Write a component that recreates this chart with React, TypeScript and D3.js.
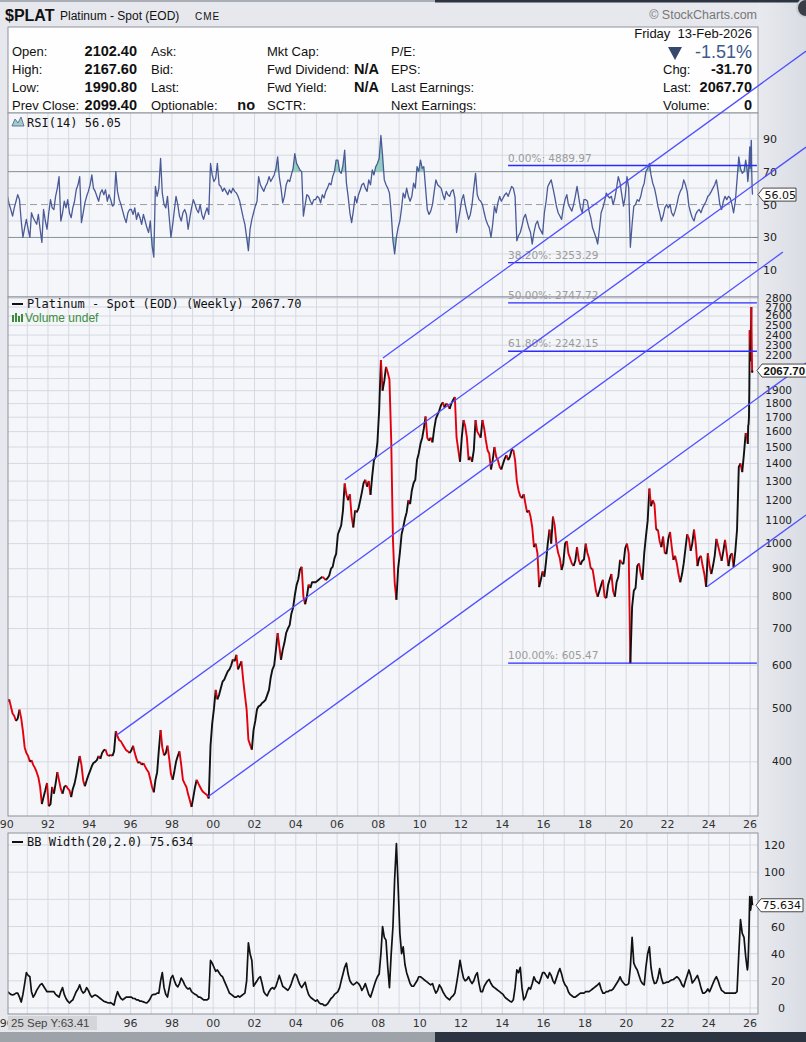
import * as d3 from 'd3';

const W = 806;
const H = 1042;

// weekly chart, sampled as monthly closes Jan 1990 .. Oct 2025, then weekly from 7-Nov-2025
const price1990s = [
  515, 520, 505, 490, 485, 475, 480, 498, 480, 455, 425, 415,
  410, 400, 403, 395, 390, 383, 375, 360, 335, 345, 355, 366,
  332, 335, 360, 350, 365, 383, 370, 357, 350, 360, 362, 358,
  355, 345, 357, 365, 378, 395, 410, 395, 370, 361, 370, 378,
  385, 393, 398, 400, 403, 410, 405, 415, 420, 421, 412, 410,
  412, 410, 418, 455, 445, 438, 436, 430, 425, 420, 418, 415,
  420, 428, 415, 405, 398, 400, 395, 398, 392, 387, 383, 372,
  360, 352, 370, 383, 420, 457, 425, 411, 415, 428, 405, 380,
  371, 385, 400, 410, 418, 395, 371, 365, 360, 349, 340, 331,
  345, 360, 371, 365, 360, 355, 352, 350, 348, 343, 428, 470,
];
const price2000s = [
  500, 541, 520, 530, 545, 560, 565, 575, 585, 590, 600, 615,
  610, 627, 590, 600, 610, 564, 530, 498, 439, 430, 421, 457,
  475, 499, 505, 507, 512, 515, 519, 530, 541, 570, 590, 600,
  640, 687, 650, 614, 640, 660, 687, 700, 710, 745, 764, 805,
  840, 860, 896, 907, 800, 775, 800, 842, 830, 850, 850, 850,
  855, 860, 865, 870, 865, 858, 865, 875, 900, 907, 940, 958,
  1040, 1060, 1080, 1150, 1287, 1227, 1200, 1230, 1120, 1070, 1150, 1140,
  1160, 1200, 1240, 1290, 1307, 1270, 1300, 1227, 1330, 1420, 1439, 1530,
  1750, 2162, 1900, 1980, 2100, 2050, 1990, 1545, 1016, 850, 790, 900,
  961, 1040, 1070, 1110, 1140, 1200, 1180, 1250, 1290, 1307, 1420, 1460,
];
const price2010s = [
  1520, 1560, 1620, 1705, 1560, 1540, 1560, 1530, 1620, 1690, 1720, 1750,
  1790, 1810, 1770, 1800, 1790, 1760, 1800, 1828, 1851, 1560, 1480, 1410,
  1560, 1680, 1640, 1560, 1420, 1440, 1410, 1480, 1680, 1600, 1580, 1560,
  1680, 1620, 1545, 1480, 1460, 1365, 1420, 1500, 1440, 1420, 1380, 1365,
  1400, 1430, 1450, 1420, 1440, 1480, 1482, 1420, 1300, 1250, 1220, 1210,
  1230, 1180, 1140, 1150, 1120, 1070, 985, 1000, 960, 833, 860, 890,
  870, 930, 1000, 1060, 1000, 1120, 1080, 1000, 961, 940, 895, 920,
  1000, 1010, 960, 940, 920, 910, 930, 985, 934, 915, 930, 935,
  1000, 960, 940, 900, 900, 860, 820, 800, 820, 840, 859, 800,
  795, 840, 860, 880, 820, 800, 850, 870, 934, 920, 920, 980,
];
const price2020s = [
  1000, 960, 605, 767, 820, 830, 910, 920, 880, 859, 960, 1030,
  1100, 1260, 1170, 1200, 1180, 1060, 1060, 1010, 985, 1030, 960, 960,
  1020, 1050, 990, 934, 950, 920, 880, 850, 880, 920, 980, 1040,
  1020, 970, 1000, 1060, 1000, 910, 940, 950, 910, 880, 834, 960,
  910, 880, 910, 950, 1020, 990, 960, 930, 970, 1016, 960, 910,
  950, 960, 907, 970, 1060, 1380, 1400, 1350, 1460, 1590,
];
const priceTail = [1560, 1540, 1520, 1640, 1650, 1700, 1950, 2450, 2150, 2300, 2400, 2700, 2300, 2050, 2067.7];

const rsi1990s = [
  55, 50, 47, 43, 48, 52, 56, 53, 40, 30, 36, 41,
  35, 30, 45, 42, 40, 38, 44, 35, 27, 47, 40, 35,
  45, 53, 48, 47, 55, 60, 67, 40, 45, 52, 48, 53,
  45, 42, 48, 52, 59, 62, 67, 39, 45, 51, 55, 58,
  62, 68, 60, 58, 55, 52, 57, 59, 56, 59, 52, 56,
  53, 49, 50, 70, 58, 53, 50, 46, 42, 39, 45, 47,
  47, 44, 48, 41, 45, 42, 38, 44, 40, 36, 33, 40,
  25, 18, 61, 55, 60, 78, 57, 50, 48, 55, 42, 30,
  38, 47, 55, 50, 43, 40, 45, 47, 44, 35, 42, 48,
  53, 50, 47, 45, 50, 44, 41, 45, 48, 44, 75, 68,
];
const rsi2000s = [
  64, 66, 75, 62, 61, 58, 60, 58, 56, 59, 57, 60,
  58, 57, 55, 52, 47, 42, 38, 30, 22, 35, 41, 45,
  49, 52, 67, 62, 60, 58, 61, 63, 67, 64, 66, 68,
  72, 79, 67, 60, 51, 55, 62, 65, 64, 68, 72, 81,
  75, 73, 71, 70, 43, 50, 56, 55, 52, 50, 53, 53,
  55, 54, 51, 56, 54, 58, 60, 63, 62, 67, 70, 77,
  77, 70, 69, 74, 83, 63, 55, 45, 39, 46, 55, 51,
  56, 59, 62, 63, 60, 58, 65, 62, 71, 68, 73, 75,
  78, 92, 80, 65, 62, 60, 57, 45, 28, 20, 30, 36,
  40, 48, 57, 54, 60, 55, 52, 55, 63, 60, 73, 70,
];
const rsi2010s = [
  77, 72, 73, 60, 47, 44, 46, 50, 58, 65, 62, 61,
  60, 56, 53, 58, 56, 55, 58, 59, 54, 33, 40, 46,
  53, 56, 50, 45, 41, 44, 50, 60, 69, 56, 53, 52,
  50, 45, 41, 38, 36, 30, 38, 49, 45, 51, 55, 52,
  54, 56, 57, 55, 58, 61, 60, 55, 28, 31, 33, 37,
  42, 44, 40, 36, 33, 26, 33, 38, 40, 36, 34, 32,
  45, 52, 61, 63, 65, 60, 55, 49, 45, 43, 41, 48,
  53, 56, 50, 48, 46, 50, 55, 61, 54, 48, 45, 53,
  53, 52, 46, 42, 36, 33, 30, 26, 35, 45, 48, 52,
  57, 55, 54, 55, 50, 54, 60, 67, 63, 56, 49, 55,
];
const rsi2020s = [
  67, 60, 24, 38, 49, 50, 53, 52, 55, 60, 63, 70,
  72, 75, 68, 63, 60, 55, 49, 45, 40, 43, 48, 50,
  48, 50, 45, 43, 46, 50, 55, 58, 60, 65, 62, 58,
  49, 45, 42, 40, 44, 46, 47, 45, 48, 50, 52, 55,
  56, 58, 60, 62, 65, 58, 50, 47, 52, 55, 53, 55,
  54, 50, 45, 52, 65, 79, 72, 69, 70, 77,
];
const rsiTail = [72, 68, 64, 66, 70, 75, 80, 85, 72, 76, 82, 89, 70, 60, 56.05];

const bb1990s = [
  12, 11, 10, 9.6, 10, 11, 11, 8, 4.4, 10, 18, 26,
  24, 23, 12, 8, 10, 13, 15, 17, 18, 16, 14, 12,
  12, 12, 12, 12, 10, 9, 8, 12, 15, 10, 7, 5,
  3.7, 5, 6, 9, 12, 14, 17, 13, 11, 12, 15, 13,
  10, 8, 9, 9.6, 9, 8, 7, 6, 5, 4.5, 4, 3.7,
  4, 3, 2.2, 8, 12, 9, 7, 6, 7, 8, 8, 8,
  8, 7, 7, 6, 6, 5, 5, 4.5, 4, 3.7, 5, 7,
  9.6, 10, 10, 11, 11, 20, 26, 15, 10, 8, 15, 22,
  24, 20, 17, 15.5, 18, 22, 20, 17, 15, 14, 14.7, 12,
  11, 10, 9.6, 8, 8, 7, 6, 6, 6, 7, 35, 33,
];
const bb2000s = [
  30, 27, 28, 26, 24, 23, 20, 17, 14, 11, 10, 9,
  8, 8, 9, 8, 9, 10, 11, 20, 48, 40, 35, 16,
  18, 20, 22, 23, 18, 12, 10, 9, 12, 14, 15, 14,
  16, 20, 24, 20, 16, 15, 14, 13, 15, 18, 22, 25,
  24, 20, 17, 15, 17, 19, 14, 10, 8, 7, 6, 5,
  6, 4, 3, 3, 2, 2, 3, 5, 7, 8, 10, 11,
  12, 15, 20, 25, 30, 33, 25, 20, 18, 17, 18, 19,
  18, 16, 13, 15, 18, 14, 10, 8, 12, 16, 20, 23,
  25, 40, 60, 52, 50, 30, 15, 40, 60, 95, 121, 90,
  55, 40, 45, 32, 26, 22, 18, 16, 16, 18, 20, 23,
];
const bb2010s = [
  23, 22, 21, 20, 19, 18, 17, 18, 14, 11, 13, 17,
  15, 12, 10, 8, 7, 6, 8, 9, 11, 18, 26, 35,
  28, 22, 20, 21, 23, 20, 18, 20, 24, 26, 18, 12,
  12, 16, 18, 20, 21, 18, 16, 15, 14, 13, 12, 11,
  10, 8, 7, 6, 5, 4.4, 6, 15, 28, 26, 30, 15,
  6, 8, 12, 15, 14, 18, 23, 20, 19, 18, 22, 26,
  26, 24, 22, 26, 24, 20, 18, 22, 26, 29, 25, 20,
  17, 15.5, 12, 10, 9, 8, 8, 9, 10, 11, 11, 11,
  12, 12, 12, 13, 14, 15, 16, 17, 18.4, 14, 11, 11,
  12, 12, 13, 13, 14, 16, 18, 20, 23, 20, 18.4, 17,
];
const bb2020s = [
  17, 18, 30, 52, 33, 30, 28, 24, 20, 18, 17, 30,
  40, 45, 30, 22, 18, 18.4, 22, 29, 22, 18, 18.4, 19,
  19, 20, 20.6, 21, 22, 23, 22, 20, 17, 15.5, 20, 24,
  28, 24, 18.4, 20, 22, 24, 20, 15, 11, 11, 12, 14,
  12, 15, 18, 21, 23, 20, 16, 13, 12, 11, 11, 11,
  11, 11, 11, 11, 12, 40, 65, 55, 52, 38,
];
const bbTail = [30, 28, 30, 36, 45, 55, 70, 82, 78, 72, 74, 80, 82, 78, 75.634];

const priceTicks = [400, 500, 600, 700, 800, 900, 1000, 1100, 1200, 1300, 1400, 1500, 1600, 1700, 1800, 1900, 2000, 2100, 2200, 2300, 2400, 2500, 2600, 2700, 2800];
const rsiTicks = [10, 30, 50, 70, 90];
const bbTicks = [0, 20, 40, 60, 80, 100, 120];

// fibonacci retracement drawn on the chart
const fibHigh = 4889.97;
const fibLow = 605.47;
const fibLevels = [0, 0.382, 0.5, 0.618, 1];
const fibSpan = [2014.28, 2026.33];

// hand-drawn channel lines: [startYear, startPrice, endYear, endPrice]
const trendLines = [
  [2008.22, 2180, 2028.71, 7905],
  [2006.38, 1307, 2028.71, 5283],
  [1995.34, 448, 2027.59, 3401],
  [1999.75, 345.6, 2028.71, 2135],
  [2023.91, 834, 2028.71, 1128],
];

const SANS = "'Liberation Sans', Arial, sans-serif";
const AXF = "'DejaVu Sans', Verdana, sans-serif";
const MONO = "'DejaVu Sans Mono', monospace";

const L = 8;
const R = 758;
const RSI_T = 113;
const RSI_B = 297;
const MAIN_T = 297;
const MAIN_B = 816;
const BB_T = 833;
const BB_B = 1014;

function yearToDate(y: number) {
  const yr = Math.floor(y);
  const a = new Date(yr, 0, 1).getTime();
  const b = new Date(yr + 1, 0, 1).getTime();
  return new Date(a + (y - yr) * (b - a));
}

export default function App() {
  const dates = [
    ...d3.range(430).map(i => new Date(1990, i, 15)),
    ...d3.range(priceTail.length).map(i => d3.timeDay.offset(new Date(2025, 10, 7), i * 7)),
  ];
  const closes = [...price1990s, ...price2000s, ...price2010s, ...price2020s, ...priceTail];
  const rsi = [...rsi1990s, ...rsi2000s, ...rsi2010s, ...rsi2020s, ...rsiTail];
  const bbw = [...bb1990s, ...bb2000s, ...bb2010s, ...bb2020s, ...bbTail];

  const x = d3.scaleTime().domain([new Date(1990, 0, 1), new Date(2026, 0, 1)]).range([6.7, 750.1]);
  const yP = d3.scaleLog().domain([316, 2700]).range([818, 307]);
  const yR = d3.scaleLinear().domain([0, 100]).range([286.8, 122.3]);
  const yB = d3.scaleLinear().domain([0, 120]).range([1008, 845]);

  const years = d3.range(1990, 2027).map(y => x(new Date(y, 0, 1))).filter(v => v > L + 0.5 && v < R);
  const labelYears = d3.range(1990, 2027, 2);
  const fmtYear = d3.timeFormat('%y');

  // price line: red on down weeks, black on up weeks
  const pts = dates.map((d, i) => [x(d), yP(closes[i])] as [number, number]);
  const runs: { up: boolean; pts: [number, number][] }[] = [];
  for (let i = 1; i < pts.length; i++) {
    const up = closes[i] >= closes[i - 1];
    const last = runs[runs.length - 1];
    if (last && last.up === up) last.pts.push(pts[i]);
    else runs.push({ up, pts: [pts[i - 1], pts[i]] });
  }
  const line = d3.line<[number, number]>();

  const rsiLine = d3.line<number>().x((_, i) => x(dates[i])).y(v => yR(v))(rsi) ?? '';
  const rsiHi = d3.area<number>().x((_, i) => x(dates[i])).y0(yR(70)).y1(v => yR(v))(rsi) ?? '';
  const rsiLo = d3.area<number>().x((_, i) => x(dates[i])).y0(yR(30)).y1(v => yR(v))(rsi) ?? '';
  const bbLine = d3.line<number>().x((_, i) => x(dates[i])).y(v => yB(v))(bbw) ?? '';

  const lastClose = closes[closes.length - 1];
  const lastRsi = rsi[rsi.length - 1];
  const lastBB = bbw[bbw.length - 1];

  const grid = '#d6d9e1';
  const border = '#8d929b';

  // axis labels hidden under the last-value tags
  const priceLabels = priceTicks.filter(t => Math.abs(yP(t) - yP(lastClose)) > 9);
  const bbLabels = bbTicks.filter(t => Math.abs(yB(t) - yB(lastBB)) > 9);

  const valueBox = (yy: number, x0: number, w: number, text: string, bold = false, fs = 11, font = AXF) => (
    <g>
      <path
        d={`M${x0},${yy} L${x0 + 5},${yy - 6.5} L${x0 + 5 + w},${yy - 6.5} L${x0 + 5 + w},${yy + 6.5} L${x0 + 5},${yy + 6.5} Z`}
        fill="#fff"
        stroke="#333"
        strokeWidth={0.9}
      />
      <text x={x0 + 6.5} y={yy + 4} fontFamily={font} fontSize={fs} fontWeight={bold ? 'bold' : 'normal'} fill="#111">
        {text}
      </text>
    </g>
  );

  const statRow = (yy: number, cells: [number, string, 'start' | 'end', boolean][]) =>
    cells.map(([xx, t, anchor, bold], i) => (
      <text
        key={`${yy}-${i}`}
        x={xx}
        y={yy}
        textAnchor={anchor}
        fontFamily={SANS}
        fontSize={bold ? 14.5 : 13}
        fontWeight={bold ? 'bold' : 'normal'}
        fill="#111"
        style={{ whiteSpace: 'pre' }}
      >
        {t}
      </text>
    ));

  return (
    <div style={{ position: 'absolute', left: 0, top: 0, width: W, height: H }}>
      <svg width={W} height={H} viewBox={`0 0 ${W} ${H}`} style={{ display: 'block' }}>
        <defs>
          <clipPath id="clipRsi"><rect x={L} y={RSI_T} width={R - L} height={RSI_B - RSI_T} /></clipPath>
          <clipPath id="clipRsiHi"><rect x={L} y={RSI_T} width={R - L} height={yR(70) - RSI_T} /></clipPath>
          <clipPath id="clipRsiLo"><rect x={L} y={yR(30)} width={R - L} height={RSI_B - yR(30)} /></clipPath>
          <clipPath id="clipMain"><rect x={L} y={MAIN_T} width={R - L} height={MAIN_B - MAIN_T} /></clipPath>
          <clipPath id="clipBB"><rect x={L} y={BB_T} width={R - L} height={BB_B - BB_T} /></clipPath>
          <clipPath id="clipEdge"><rect x={0} y={1000} width={L} height={40} /></clipPath>
          <linearGradient id="side" x1="0" x2="1" y1="0" y2="0">
            <stop offset="0" stopColor="#e8eaef" />
            <stop offset="1" stopColor="#d9dce3" />
          </linearGradient>
        </defs>

        {/* page background */}
        <rect x={0} y={0} width={W} height={H} fill="#e6e8ed" />
        <rect x={R} y={0} width={W - R} height={H} fill="url(#side)" />
        <rect x={0} y={0} width={435} height={2} fill="#a9adb5" />
        <rect x={435} y={0} width={W - 435} height={2.5} fill="#2c3441" />
        <circle cx={806} cy={8} r={9} fill="#3a3f47" stroke="#c9ccd2" strokeWidth={2} />

        {/* title */}
        <text x={5} y={21} fontFamily={SANS} fontSize={16} fontWeight="bold" fill="#111">$PLAT</text>
        <text x={60} y={20} fontFamily={SANS} fontSize={12} fill="#111">Platinum - Spot (EOD)</text>
        <text x={195} y={20} fontFamily={SANS} fontSize={10} letterSpacing={1} fill="#111">CME</text>
        <text x={757} y={19} textAnchor="end" fontFamily={SANS} fontSize={12.5} fill="#777">© StockCharts.com</text>

        {/* header box */}
        <rect x={L} y={27} width={R - L} height={RSI_T - 27} fill="#fefefe" stroke={border} strokeWidth={1} />
        {statRow(56, [[12, 'Open:', 'start', false], [137, '2102.40', 'end', true], [151, 'Ask:', 'start', false], [267, 'Mkt Cap:', 'start', false], [391, 'P/E:', 'start', false]])}
        {statRow(74, [[12, 'High:', 'start', false], [137, '2167.60', 'end', true], [151, 'Bid:', 'start', false], [267, 'Fwd Dividend:', 'start', false], [379, 'N/A', 'end', true], [391, 'EPS:', 'start', false]])}
        {statRow(92, [[12, 'Low:', 'start', false], [137, '1990.80', 'end', true], [151, 'Last:', 'start', false], [267, 'Fwd Yield:', 'start', false], [379, 'N/A', 'end', true], [391, 'Last Earnings:', 'start', false]])}
        {statRow(110, [[12, 'Prev Close:', 'start', false], [137, '2099.40', 'end', true], [151, 'Optionable:', 'start', false], [255, 'no', 'end', true], [267, 'SCTR:', 'start', false], [391, 'Next Earnings:', 'start', false]])}
        <text x={752} y={38} textAnchor="end" fontFamily={SANS} fontSize={13} fill="#111" style={{ whiteSpace: 'pre' }}>{'Friday  13-Feb-2026'}</text>
        <path d="M668,47 L682,47 L675,60 Z" fill="#34496b" />
        <text x={752} y={58} textAnchor="end" fontFamily={SANS} fontSize={18} fill="#3d5a8c">-1.51%</text>
        {statRow(74, [[663, 'Chg:', 'start', false], [752, '-31.70', 'end', true]])}
        {statRow(92, [[663, 'Last:', 'start', false], [752, '2067.70', 'end', true]])}
        {statRow(110, [[663, 'Volume:', 'start', false], [752, '0', 'end', true]])}

        {/* ---------- RSI panel ---------- */}
        <rect x={L} y={RSI_T} width={R - L} height={RSI_B - RSI_T} fill="#f4f6fa" />
        {years.map((v, i) => <line key={`rv${i}`} x1={v} x2={v} y1={RSI_T} y2={RSI_B} stroke={grid} />)}
        {d3.range(10, 100, 10).filter(v => v !== 30 && v !== 50 && v !== 70).map(v => (
          <line key={`rh${v}`} x1={L} x2={R} y1={yR(v)} y2={yR(v)} stroke={grid} />
        ))}
        <line x1={L} x2={R} y1={yR(70)} y2={yR(70)} stroke="#7e828a" strokeWidth={1} />
        <line x1={L} x2={R} y1={yR(30)} y2={yR(30)} stroke="#7e828a" strokeWidth={1} />
        <line x1={L} x2={R} y1={yR(50)} y2={yR(50)} stroke="#9a9da4" strokeDasharray="7,4" />
        <path d={rsiHi} fill="#93cfc0" clipPath="url(#clipRsiHi)" />
        <path d={rsiLo} fill="#93cfc0" clipPath="url(#clipRsiLo)" />
        <path d={rsiLine} fill="none" stroke="#4a5a96" strokeWidth={1.3} strokeLinejoin="round" clipPath="url(#clipRsi)" />
        <rect x={L} y={RSI_T} width={R - L} height={RSI_B - RSI_T} fill="none" stroke={border} />
        <path d="M12,126 L15,119 L18,123 L21,117 L24,126 Z" fill="#9fd0c6" stroke="#4a5a96" strokeWidth={0.8} />
        <text x={27} y={127} fontFamily={MONO} fontSize={12} fill="#111">{`RSI(14) ${lastRsi.toFixed(2)}`}</text>
        {rsiTicks.map(t => (
          <text key={`rt${t}`} x={777} y={yR(t) + 4} textAnchor="end" fontFamily={AXF} fontSize={11} fill="#222">{t}</text>
        ))}

        {/* ---------- price panel ---------- */}
        <rect x={L} y={MAIN_T} width={R - L} height={MAIN_B - MAIN_T} fill="#f4f6fa" />
        {years.map((v, i) => <line key={`mv${i}`} x1={v} x2={v} y1={MAIN_T} y2={MAIN_B} stroke={grid} />)}
        {priceTicks.map(t => (
          <line key={`mh${t}`} x1={L} x2={R} y1={yP(t)} y2={yP(t)} stroke={grid} />
        ))}
        <g clipPath="url(#clipMain)" fill="none" strokeWidth={1.9} strokeLinejoin="round">
          {runs.map((r, i) => (
            <path key={`pr${i}`} d={line(r.pts) ?? ''} stroke={r.up ? '#111' : '#e3000e'} />
          ))}
        </g>
        <rect x={L} y={MAIN_T} width={R - L} height={MAIN_B - MAIN_T} fill="none" stroke={border} />
        <line x1={12} x2={23} y1={304} y2={304} stroke="#111" strokeWidth={2} />
        <text x={27} y={308} fontFamily={MONO} fontSize={12} fill="#111">{`Platinum - Spot (EOD) (Weekly) ${lastClose.toFixed(2)}`}</text>
        <rect x={12} y={315} width={2} height={7} fill="#3c8c3c" />
        <rect x={15} y={313} width={2} height={9} fill="#3c8c3c" />
        <rect x={18} y={316} width={2} height={6} fill="#3c8c3c" />
        <rect x={21} y={314} width={2} height={8} fill="#3c8c3c" />
        <text x={25} y={322} fontFamily={SANS} fontSize={12} fill="#3c8c3c">Volume undef</text>
        {priceLabels.map(t => (
          <text key={`pt${t}`} x={792} y={yP(t) + 3.5} textAnchor="end" fontFamily={AXF} fontSize={10.5} fill="#222">{t}</text>
        ))}
        {labelYears.map(yv => (
          <text key={`xl${yv}`} x={x(new Date(yv, 0, 1))} y={828} textAnchor="middle" fontFamily={AXF} fontSize={11} fill="#333">
            {fmtYear(new Date(yv, 0, 1))}
          </text>
        ))}

        {/* ---------- BB width panel ---------- */}
        <rect x={L} y={BB_T} width={R - L} height={BB_B - BB_T} fill="#f4f6fa" />
        {years.map((v, i) => <line key={`bv${i}`} x1={v} x2={v} y1={BB_T} y2={BB_B} stroke={grid} />)}
        {bbTicks.map(t => (
          <line key={`bh${t}`} x1={L} x2={R} y1={yB(t)} y2={yB(t)} stroke={grid} />
        ))}
        <path d={bbLine} fill="none" stroke="#111" strokeWidth={1.7} strokeLinejoin="round" clipPath="url(#clipBB)" />
        <rect x={L} y={BB_T} width={R - L} height={BB_B - BB_T} fill="none" stroke={border} />
        <line x1={12} x2={23} y1={842} y2={842} stroke="#111" strokeWidth={2} />
        <text x={27} y={846} fontFamily={MONO} fontSize={12} fill="#111">{`BB Width(20,2.0) ${lastBB.toFixed(3)}`}</text>
        {bbLabels.map(t => (
          <text key={`bt${t}`} x={785} y={yB(t) + 4} textAnchor="end" fontFamily={AXF} fontSize={11} fill="#222">{t}</text>
        ))}
        {labelYears.filter(yv => x(new Date(yv, 0, 1)) > 110).map(yv => (
          <text key={`xb${yv}`} x={x(new Date(yv, 0, 1))} y={1027} textAnchor="middle" fontFamily={AXF} fontSize={11} fill="#333">
            {fmtYear(new Date(yv, 0, 1))}
          </text>
        ))}
        <text x={x(new Date(1990, 0, 1))} y={1027} textAnchor="middle" fontFamily={AXF} fontSize={11} fill="#333" clipPath="url(#clipEdge)">
          {fmtYear(new Date(1990, 0, 1))}
        </text>
        <rect x={8} y={1016} width={89} height={14} fill="#d3d5d9" />
        <text x={11} y={1027} fontFamily={SANS} fontSize={11.5} fill="#444">25 Sep Y:63.41</text>
        <rect x={0} y={1032} width={435} height={H - 1032} fill="#9ea2a9" />
        <rect x={435} y={1032} width={W - 435} height={H - 1032} fill="#2b3440" />

        {/* ---------- drawn annotations ---------- */}
        {fibLevels.map(l => {
          const v = fibHigh - l * (fibHigh - fibLow);
          const yy = yP(v);
          return (
            <g key={`fib${l}`}>
              <text x={x(yearToDate(fibSpan[0]))} y={yy - 4} fontFamily={AXF} fontSize={10.5} fill="#9b9b9b">
                {`${(l * 100).toFixed(2)}%: ${v.toFixed(2)}`}
              </text>
              <line
                x1={x(yearToDate(fibSpan[0]))}
                x2={x(yearToDate(fibSpan[1]))}
                y1={yy}
                y2={yy}
                stroke="#2b2bff"
                strokeWidth={1.4}
              />
            </g>
          );
        })}
        {trendLines.map(([y0, p0, y1, p1], i) => (
          <line
            key={`tl${i}`}
            x1={x(yearToDate(y0))}
            y1={yP(p0)}
            x2={x(yearToDate(y1))}
            y2={yP(p1)}
            stroke="#4f4fff"
            strokeWidth={1.3}
          />
        ))}

        {/* last value tags */}
        {valueBox(yR(lastRsi), 758, 33, lastRsi.toFixed(2))}
        {valueBox(yP(lastClose), 757, 46, lastClose.toFixed(2), true, 11.5, SANS)}
        {valueBox(yB(lastBB), 756, 42, lastBB.toFixed(3))}
      </svg>
    </div>
  );
}
